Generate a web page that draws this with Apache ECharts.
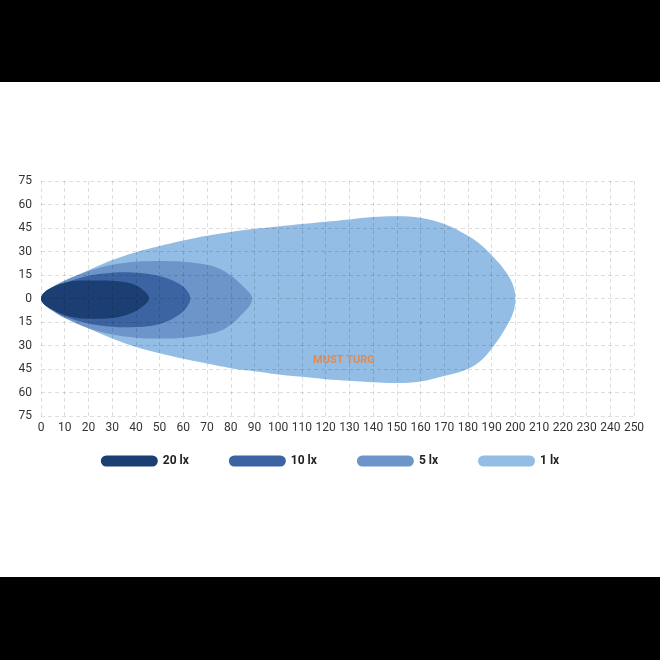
<!DOCTYPE html>
<html>
<head>
<meta charset="utf-8">
<script src="https://cdn.jsdelivr.net/npm/echarts@6/dist/echarts.min.js"></script>
<style>
  html, body { margin: 0; padding: 0; background: #000; }
  #beamChart { position: absolute; left: 0; top: 82px; width: 660px; height: 495px; background: #fff; }
</style>
</head>
<body>
<div id="beamChart"></div>
<script>
// tick labels
const xTicks = [0, 250, 10]
const yTicks = [-75, 75, 15]

// lobe contours: distance (x), upper edge, lower edge
const lux1X = [0, 1.5, 5, 10, 20, 30, 40, 50, 60, 70, 80, 90, 100, 110, 120, 130, 140, 150, 160, 170, 180, 186, 191, 195, 198, 199.6, 200]
const lux1Top = [0, 4, 7.5, 11, 18, 24.5, 29.5, 33.5, 37, 40, 42.5, 44.5, 46, 47.5, 49, 50.5, 52, 52.5, 51.5, 47.5, 40, 33.5, 26, 19, 12, 5.5, 0]
const lux1Bottom = [0, -4, -7.5, -11.5, -19, -25.5, -31, -35, -38.5, -41.5, -44.5, -46.5, -48.5, -50, -51.5, -52.5, -53.5, -54, -53, -49.5, -45, -39, -30, -21, -13, -6, 0]

const lux5X = [0, 1.5, 5, 10, 20, 30, 40, 50, 60, 70, 76, 81, 85, 88, 89]
const lux5Top = [0, 4, 7.5, 11.5, 17.5, 21.5, 23.5, 24, 23.5, 21.5, 18.5, 13.5, 8, 3.5, 0]
const lux5Bottom = [0, -4, -8, -12.5, -19, -23, -25, -25.5, -25, -23, -20.5, -15.5, -9.5, -4.5, 0]

const lux10X = [0, 1.5, 5, 10, 20, 30, 40, 48, 54, 58, 61, 63]
const lux10Top = [0, 4, 7, 10, 14.5, 16.5, 16.5, 15, 12.5, 9.5, 6, 0]
const lux10Bottom = [0, -4, -7.5, -11.5, -16, -18, -18.2, -17, -14, -10.5, -6.5, 0]

const lux20X = [0, 1.5, 6, 10, 15, 20, 25, 30, 35, 40, 43, 45, 45.5]
const lux20Top = [0, 4, 8, 10, 11.3, 11.5, 11.5, 11.3, 10.5, 8.5, 5.5, 2.5, 0]
const lux20Bottom = [0, -4, -8, -10.5, -12.3, -13, -13, -12.5, -11, -8, -5, -2, 0]

const lobeNames = ['20 lx', '10 lx', '5 lx', '1 lx']
const lobeColors = ['#1c3f73', '#3c64a2', '#6d95c9', '#93bde4']

const contour = (xs, top, bottom) => {
  const upper = xs.map((x, i) => [x, top[i]])
  const lower = xs.map((x, i) => [x, bottom[i]]).reverse().slice(1, -1)
  return upper.concat(lower)
}

const lobes = [
  contour(lux20X, lux20Top, lux20Bottom),
  contour(lux10X, lux10Top, lux10Bottom),
  contour(lux5X, lux5Top, lux5Bottom),
  contour(lux1X, lux1Top, lux1Bottom)
]

const font = "'Roboto', sans-serif"
const myChart = echarts.init(document.getElementById('beamChart'))

const lobeSeries = (idx) => ({
  name: lobeNames[idx],
  type: 'custom',
  z: 10 - idx,
  itemStyle: { color: lobeColors[idx] },
  data: [0],
  renderItem: (params, api) => {
    const pts = lobes[idx].map((p) => api.coord(p))
    return {
      type: 'polygon',
      shape: { points: pts, smooth: 0.35, smoothConstraint: false },
      style: { fill: lobeColors[idx] }
    }
  }
})

const gridLine = {
  show: true,
  lineStyle: { color: 'rgba(0,0,0,0.13)', type: [4, 3], width: 1 }
}

const option = {
  animation: false,
  grid: { left: 41, right: 26, top: 99, bottom: 161 },
  legend: {
    data: lobeNames.slice(),
    left: 'center',
    top: 368,
    itemGap: 40,
    itemWidth: 57,
    itemHeight: 11,
    icon: 'path://M5.5,0 H51.5 A5.5,5.5 0 0 1 51.5,11 H5.5 A5.5,5.5 0 0 1 5.5,0 Z',
    textStyle: { color: '#222', fontWeight: 'bold', fontSize: 12, fontFamily: font }
  },
  xAxis: {
    type: 'value',
    min: xTicks[0],
    max: xTicks[1],
    interval: xTicks[2],
    z: 20,
    axisLine: { show: false },
    axisTick: { show: false },
    axisLabel: { color: '#333', fontSize: 12, margin: 6, fontFamily: font },
    splitLine: gridLine
  },
  yAxis: {
    type: 'value',
    min: yTicks[0],
    max: yTicks[1],
    interval: yTicks[2],
    z: 20,
    axisLine: { show: false },
    axisTick: { show: false },
    axisLabel: {
      color: '#333',
      fontSize: 12,
      margin: 9,
      fontFamily: font,
      formatter: (v) => String(Math.abs(v))
    },
    splitLine: gridLine
  },
  graphic: [
    {
      type: 'text',
      z: 100,
      left: 313,
      top: 273,
      style: { text: 'MUST TURG', fill: '#e08a50', font: "bold 11px 'Roboto', sans-serif" }
    }
  ],
  series: [3, 2, 1, 0].map(lobeSeries)
}

option && myChart.setOption(option)
</script>
</body>
</html>
